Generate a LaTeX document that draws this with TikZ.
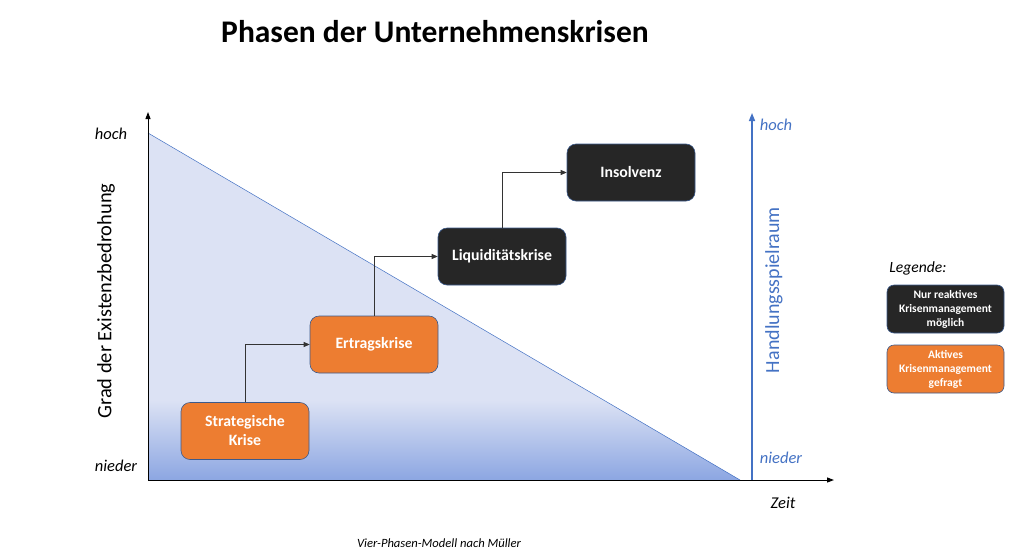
\documentclass[tikz,border=0pt]{standalone}
\usepackage{fontspec}
\setmainfont{Carlito}
\usetikzlibrary{arrows.meta}
\definecolor{orng}{HTML}{ED7D31}
\definecolor{drk}{HTML}{262626}
\definecolor{bblue}{HTML}{4472C4}
\definecolor{edgeb}{HTML}{3B5A8C}
\definecolor{trilight}{HTML}{DCE2F4}
\definecolor{tridark}{HTML}{8CA6E2}
\begin{document}
\begin{tikzpicture}[x=1pt,y=-1pt,
  phase/.style={rounded corners=9pt,draw=edgeb,line width=0.6pt,minimum width=128pt,minimum height=57pt,text=white,font=\fontsize{15.8}{19}\selectfont\bfseries,align=center,inner sep=2pt},
  legbox/.style={rounded corners=7pt,draw=edgeb,line width=0.6pt,minimum width=117pt,minimum height=48pt,text=white,font=\fontsize{11.5}{14}\selectfont\bfseries,align=center,inner sep=1pt},
  conn/.style={-{Triangle[length=6pt,width=5pt]},line width=0.6pt,black!80},
  lab/.style={font=\fontsize{16.5}{18}\selectfont\itshape},
  blab/.style={font=\fontsize{16.5}{18}\selectfont\itshape,text=bblue}]
\useasboundingbox (0,0) rectangle (1024,557);
\fill[white] (0,0) rectangle (1024,557);
% title
\node[font=\fontsize{31.5}{34}\selectfont\bfseries] (title) at (435,32) {Phasen der Unternehmenskrisen};
% triangle
\fill[trilight] (148,133) -- (148,480) -- (740,480) -- cycle;
\begin{scope}
\clip (148,133) -- (148,480) -- (740,480) -- cycle;
\shade[top color=trilight,bottom color=tridark] (148,400) rectangle (740,480);
\end{scope}
\draw[bblue,line width=0.5pt] (148,133) -- (740,480);
% axes
\coordinate (o) at (148,480);
\coordinate (ytop) at (148,112);
\coordinate (xend) at (834,480);
\draw[-{Triangle[length=7pt,width=5pt]},line width=1pt] (o) -- (ytop);
\draw[-{Triangle[length=7pt,width=5pt]},line width=1pt] (o) -- (xend);
\coordinate (bbot) at (752,480);
\coordinate (btop) at (752,113);
\draw[-{Triangle[length=8pt,width=6pt]},line width=1.5pt,bblue] (bbot) -- (btop);
% axis labels
\node[lab] (hochl) at (111,134) {hoch};
\node[lab] (niederl) at (116,466) {nieder};
\node[blab] (hochr) at (776,125) {hoch};
\node[blab] (niederr) at (781,458) {nieder};
\node[lab] (zeit) at (783,503) {Zeit};
\node[rotate=90,font=\fontsize{20.4}{22}\selectfont] (ylab) at (106,301) {Grad der Existenzbedrohung};
\node[rotate=90,font=\fontsize{20}{22}\selectfont,text=bblue] (rlab) at (774,290) {Handlungsspielraum};
% phases
\node[phase,fill=orng] (s) at (245,431) {Strategische\\Krise};
\node[phase,fill=orng] (e) at (374,344.5) {Ertragskrise};
\node[phase,fill=drk] (l) at (502,256.5) {Liquiditätskrise};
\node[phase,fill=drk] (i) at (631,172.5) {Insolvenz};
\draw[conn] (s.north) |- (e.west);
\draw[conn] (e.north) |- (l.west);
\draw[conn] (l.north) |- (i.west);
% legend
\node[font=\fontsize{15.6}{17}\selectfont\itshape] (leg) at (918,268) {Legende:};
\node[legbox,fill=drk] (lg1) at (945.5,309) {Nur reaktives\\Krisenmanagement\\möglich};
\node[legbox,fill=orng] (lg2) at (945.5,369) {Aktives\\Krisenmanagement\\gefragt};
% caption
\node[font=\fontsize{12.6}{14}\selectfont\itshape] (cap) at (439,543) {Vier-Phasen-Modell nach Müller};
\end{tikzpicture}
\end{document}
